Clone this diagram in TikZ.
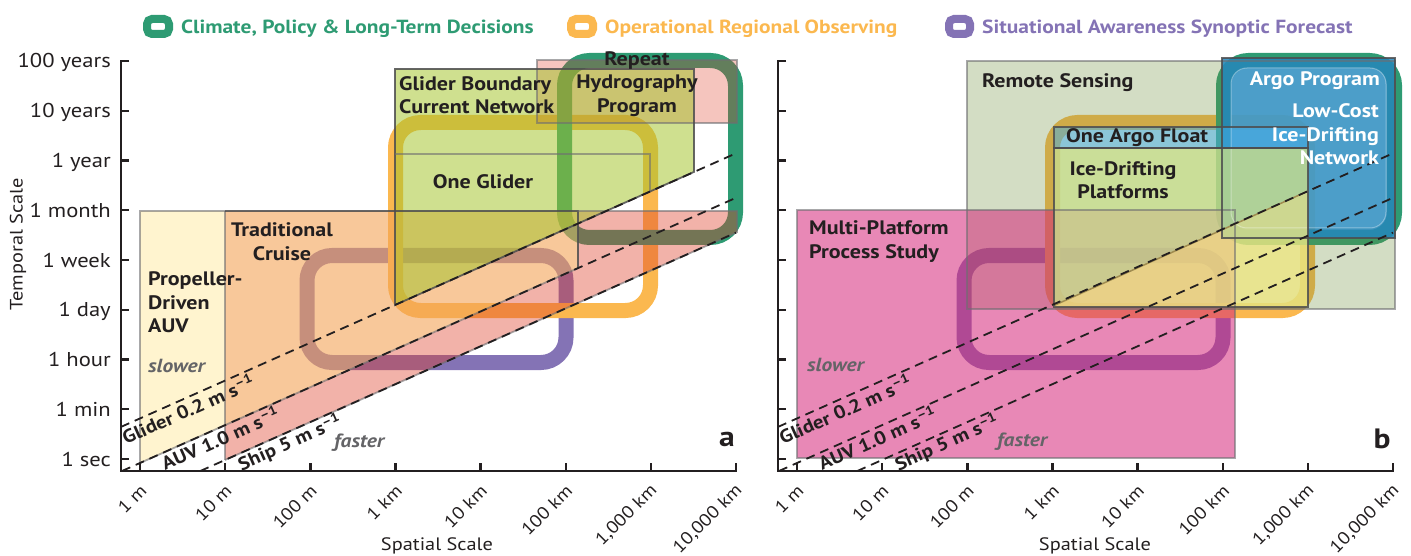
\documentclass[tikz,border=0pt]{standalone}
\usepackage{fontspec}
\setmainfont{PT Sans}[FakeStretch=1.13]
\usetikzlibrary{calc}
\definecolor{axis}{RGB}{35,31,32}
\definecolor{txt}{RGB}{35,31,32}
\definecolor{ringG}{RGB}{46,155,115}
\definecolor{ringO}{RGB}{251,184,79}
\definecolor{ringP}{RGB}{132,115,181}
\definecolor{propY}{RGB}{255,244,207}
\definecolor{cruiseO}{RGB}{243,163,87}
\definecolor{shipR}{RGB}{222,62,40}
\definecolor{glideG}{RGB}{164,196,43}
\definecolor{rsG}{RGB}{108,142,58}
\definecolor{multiP}{RGB}{213,39,122}
\definecolor{iceG}{RGB}{200,222,141}
\definecolor{iceY}{RGB}{237,231,131}
\definecolor{floatB}{RGB}{69,175,236}
\definecolor{argoB}{RGB}{35,135,190}
\definecolor{lowB}{RGB}{95,172,215}
\definecolor{edgeDc}{RGB}{77,77,79}
\definecolor{edgeLc}{RGB}{110,110,113}
\definecolor{slowT}{RGB}{100,100,103}
\definecolor{oliveL}{RGB}{160,140,80}
\tikzset{
 ring/.style={line width=15pt, rounded corners=25pt},
 lbl/.style={font=\fontsize{19.5}{23.5}\selectfont\bfseries, text=txt, inner sep=0pt},
 wlbl/.style={font=\fontsize{19.5}{23.5}\selectfont\bfseries, text=white, inner sep=0pt},
 yticklbl/.style={font=\fontsize{20}{22}\selectfont, text=txt, inner sep=0pt},
 xticklbl/.style={font=\fontsize{17.5}{20}\selectfont, text=txt, inner sep=0pt},
 speedline/.style={dash pattern=on 9pt off 6pt, line width=1.8pt, draw=axis},
 speedlbl/.style={font=\fontsize{18.5}{22}\selectfont\bfseries, text=txt, inner sep=0pt, rotate=24},
 axisline/.style={line width=2.4pt, draw=axis},
 edgeL/.style={draw=edgeLc, draw opacity=0.6, line width=1.8pt},
 edgeD/.style={draw=edgeDc, draw opacity=0.85, line width=1.8pt},
 note/.style={font=\fontsize{19}{22}\selectfont\bfseries\itshape, text=slowT, inner sep=0pt, anchor=west},
 legendtxt/.style={font=\fontsize{19}{22}\selectfont\bfseries, inner sep=0pt, anchor=base west},
 icon/.style={line width=8pt, rounded corners=5pt},
 axtitle/.style={font=\fontsize{18}{22}\selectfont, text=txt, inner sep=0pt},
 panellbl/.style={font=\fontsize{28}{30}\selectfont\bfseries, text=txt, inner sep=0pt},
}
\begin{document}
\begin{tikzpicture}[x=1pt,y=-1pt]
\useasboundingbox (0,0) rectangle (1411,556);

% ---------------- legend ----------------
\draw[icon, draw=ringG] (147,19) rectangle (169,34);
\node[legendtxt, text=ringG] (legG) at (181,34) {Climate, Policy \& Long-Term Decisions};
\draw[icon, draw=ringO] (571,19) rectangle (593,34);
\node[legendtxt, text=ringO] (legO) at (605,34) {Operational Regional Observing};
\draw[icon, draw=ringP] (949,19) rectangle (970,34);
\node[legendtxt, text=ringP] (legP) at (982,34) {Situational Awareness Synoptic Forecast};

% ================= PANEL A =================
\draw[ring, draw=ringP] (307,255.5) rectangle (566,362.5);
\draw[ring, draw=ringO] (395.5,122.5) rectangle (650.5,310.5);
\draw[ring, draw=ringG] (564.5,60.5) rectangle (735.5,237.5);

\fill[propY] (140,211) -- (225,211) -- (225,425.2) -- (140,463) -- cycle;
\fill[shipR, fill opacity=0.4] (225,425.2) -- (578,268.1) -- (578,211) -- (737,211) -- (737,232.2) -- (225,460) -- cycle;
\fill[cruiseO, fill opacity=0.6] (225,211) -- (578,211) -- (578,268.1) -- (225,425.2) -- cycle;
\fill[shipR, fill opacity=0.3] (537,60) rectangle (737,123);
\fill[glideG, fill opacity=0.53] (395,69) -- (694,69) -- (694,171.9) -- (395,305) -- cycle;

\draw[edgeL] (140,463) -- (140,211) -- (225,211);
\draw[edgeL] (225,211) -- (225,460);
\draw[edgeL] (140,463) -- (578,268.1);
\draw[edgeD] (225,211) -- (578,211) -- (578,268.1);
\draw[edgeL] (578,211) -- (737,211) -- (737,232.2) -- (225,460);
\draw[edgeL] (537,60) rectangle (737,123);
\draw[edgeD] (395,305) -- (395,69) -- (694,69) -- (694,171.9) -- cycle;
\draw[edgeL] (395,154) -- (650,154) -- (650,191.5);

\coordinate (gA1) at (121,426.9); \coordinate (gA2) at (736,153.3);
\coordinate (aA1) at (122,471);   \coordinate (aA2) at (736,197.8);
\coordinate (sA1) at (200.3,471); \coordinate (sA2) at (736,232.6);
\draw[speedline] (gA1) -- (gA2);
\draw[speedline] (aA1) -- (aA2);
\draw[speedline] (sA1) -- (sA2);

\draw[axisline] (129,61) -- (121,61) -- (121,471) -- (736,471) -- (736,463);
\foreach \y/\t [count=\i] in {61/100 years,110.75/10 years,160.5/1 year,210.25/1 month,260/1 week,309.75/1 day,359.5/1 hour,409.25/1 min,459/1 sec}{
  \draw[axisline] (121,\y) -- (129,\y);
  \node[yticklbl, anchor=base east] (ya\i) at (111,\y+7) {\t};
}
\foreach \x/\t [count=\i] in {140/1 m,225.1/10 m,310.3/100 m,395.4/1 km,480.6/10 km,565.7/100 km,650.9/{1,000 km},736/{10,000 km}}{
  \draw[axisline] (\x,471) -- (\x,463);
  \node[xticklbl, anchor=east, rotate=45] (xa\i) at (\x+3.5,487.5) {\t};
}
\node[axtitle, rotate=90] (ytitle) at (18,244) {Temporal Scale};
\node[axtitle] (xtitleA) at (437,546) {Spatial Scale};

\node[lbl, align=left, anchor=west] (prop) at (148,302.5) {Propeller-\\Driven\\AUV};
\node[lbl, align=center] (cruise) at (282,241.5) {Traditional\\Cruise};
\node[lbl, align=left, anchor=west] (bcn) at (399,95) {Glider Boundary\\Current Network};
\node[lbl, align=center] (hydro) at (637,84) {Repeat\\Hydrography\\Program};
\node[lbl] (oneglider) at (483,182) {One Glider};
\node[note] (slowA) at (148,366) {slower};
\node[note] (fastA) at (334,443) {faster};
\node[speedlbl] (glA) at (188,409) {Glider 0.2 m s\textsuperscript{–1}};
\node[speedlbl] (auA) at (220,438) {AUV 1.0 m s\textsuperscript{–1}};
\node[speedlbl] (shA) at (290,443) {Ship 5 m s\textsuperscript{–1}};
\node[panellbl] (pa) at (727,439) {a};

% ================= PANEL B =================
\draw[ring, draw=ringP] (964,255.5) rectangle (1223,362.5);
\draw[ring, draw=ringO] (1052.5,122.5) rectangle (1307.5,310.5);
\draw[ring, draw=ringG] (1223.5,60.5) rectangle (1394.5,237.5);

\fill[rsG, fill opacity=0.3] (967,61) rectangle (1395,309);
\fill[multiP, fill opacity=0.55] (797,210) rectangle (1235,458);
\fill[argoB, fill opacity=0.85] (1222,58) rectangle (1395,238);
\fill[lowB, fill opacity=0.45, rounded corners=16pt] (1231,68) rectangle (1386,228);
\fill[iceG, fill opacity=0.8] (1054,148) -- (1308,148) -- (1308,191.1) -- (1054,305.5) -- cycle;
\fill[iceY, fill opacity=0.8] (1054,305.5) -- (1308,191.1) -- (1308,307) -- (1054,307) -- cycle;
\fill[floatB, fill opacity=0.5] (1054,127) rectangle (1308,148);

\draw[edgeL, line width=2.4pt] (967,61) rectangle (1395,309);
\draw[edgeL] (797,210) rectangle (1235,458);
\draw[white, draw opacity=0.35, line width=1pt, rounded corners=16pt] (1231,68) rectangle (1386,228);
\draw[oliveL, line width=1.5pt] (1054,305.5) -- (1308,191.1);
\draw[edgeD] (1222,58) rectangle (1395,238);
\draw[edgeD] (1054,127) rectangle (1308,148);
\draw[edgeD] (1054,148) rectangle (1308,307);

\coordinate (gB1) at (778,426.9);  \coordinate (gB2) at (1393,153.3);
\coordinate (aB1) at (779,471);    \coordinate (aB2) at (1393,197.8);
\coordinate (sB1) at (857.3,471);  \coordinate (sB2) at (1393,232.6);
\draw[speedline] (gB1) -- (gB2);
\draw[speedline] (aB1) -- (aB2);
\draw[speedline] (sB1) -- (sB2);

\draw[axisline] (786,61) -- (778,61) -- (778,471) -- (1393,471) -- (1393,463);
\foreach \y in {110.75,160.5,210.25,260,309.75,359.5,409.25,459}{
  \draw[axisline] (778,\y) -- (786,\y);
}
\foreach \x/\t [count=\i] in {797/1 m,882.1/10 m,967.3/100 m,1052.4/1 km,1137.6/10 km,1222.7/100 km,1307.9/{1,000 km},1393/{10,000 km}}{
  \draw[axisline] (\x,471) -- (\x,463);
  \node[xticklbl, anchor=east, rotate=45] (xb\i) at (\x+3.5,487.5) {\t};
}
\node[axtitle] (xtitleB) at (1095,546) {Spatial Scale};

\node[lbl, anchor=west] (rs) at (982,83) {Remote Sensing};
\node[lbl, anchor=west] (flt) at (1066,138) {One Argo Float};
\node[lbl, align=center] (ice) at (1123,180) {Ice-Drifting\\Platforms};
\node[lbl, align=left, anchor=west] (mps) at (809,241.5) {Multi-Platform\\Process Study};
\node[wlbl, anchor=east] (argo) at (1380,81) {Argo Program};
\node[wlbl, align=right, anchor=east] (lowc) at (1379,134.5) {Low-Cost\\Ice-Drifting\\Network};
\node[note] (slowB) at (807,365) {slower};
\node[note] (fastB) at (997,442) {faster};
\node[speedlbl] (glB) at (845,409) {Glider 0.2 m s\textsuperscript{–1}};
\node[speedlbl] (auB) at (877,438) {AUV 1.0 m s\textsuperscript{–1}};
\node[speedlbl] (shB) at (947,443) {Ship 5 m s\textsuperscript{–1}};
\node[panellbl] (pb) at (1382,439) {b};
\end{tikzpicture}
\end{document}
